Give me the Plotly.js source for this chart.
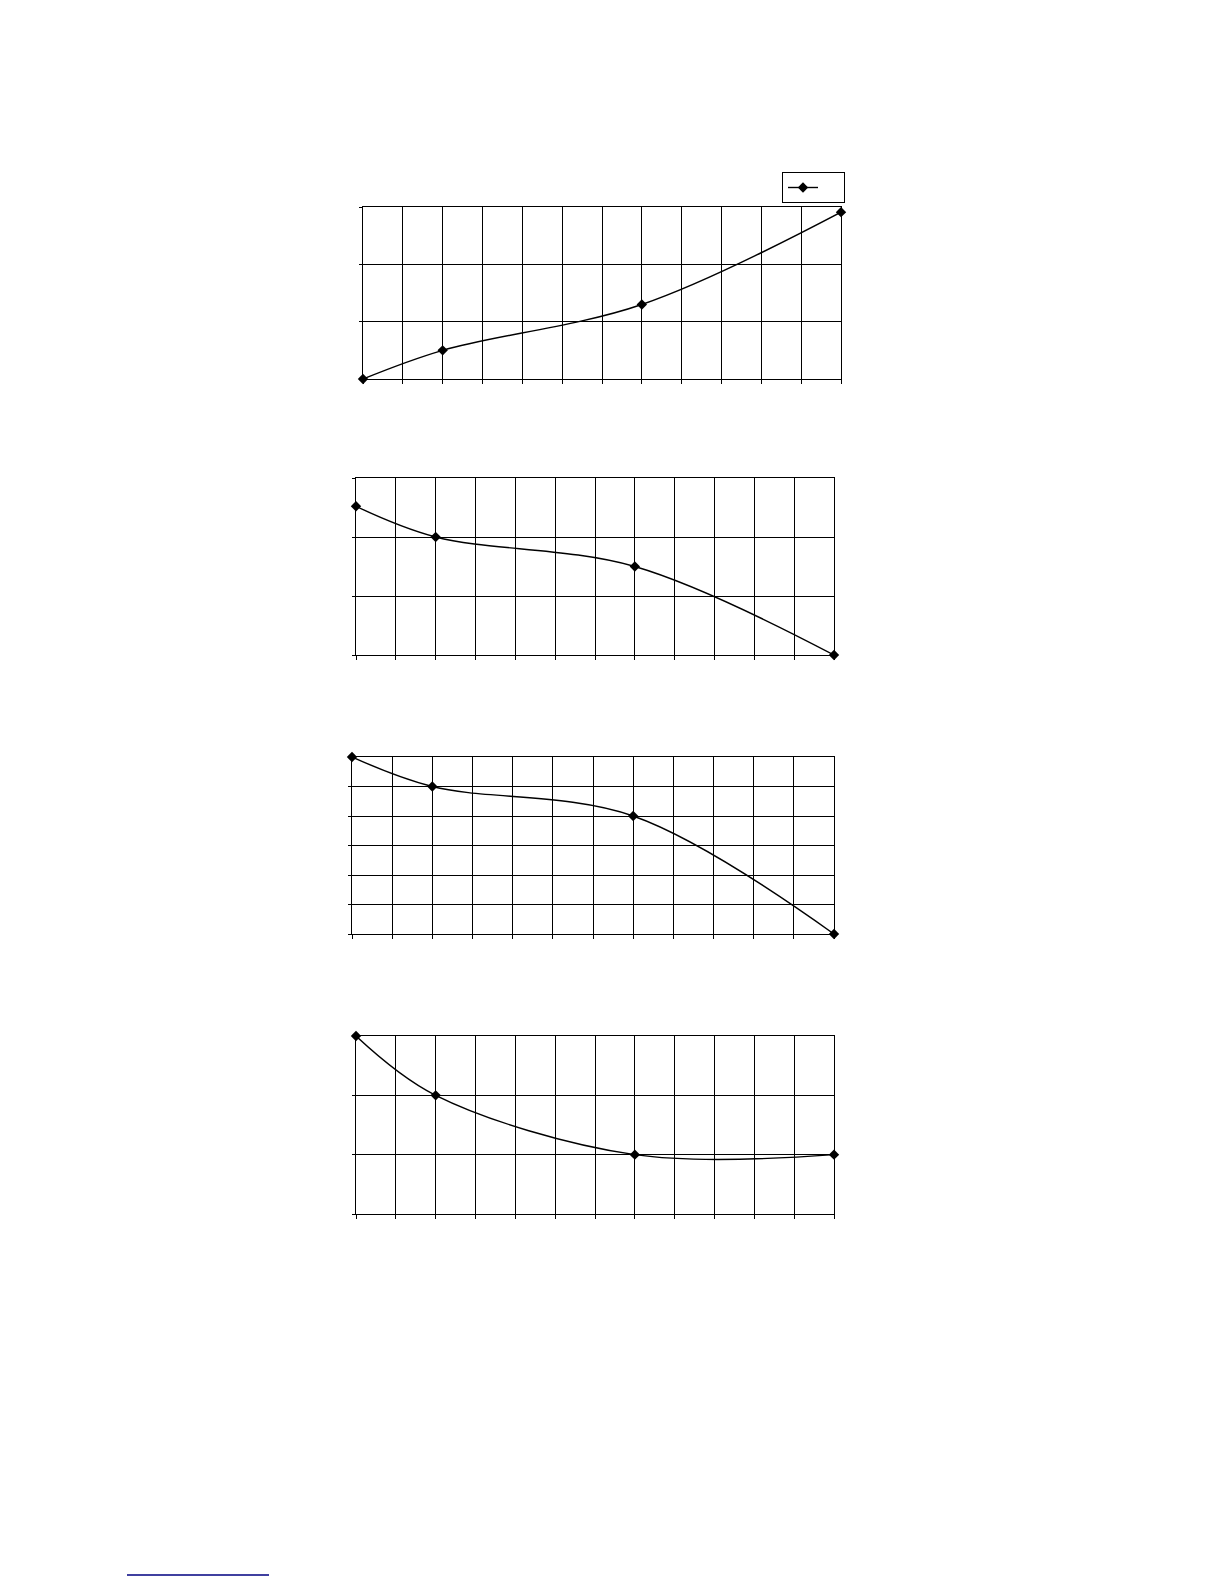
<!DOCTYPE html>
<html>
<head>
<meta charset="utf-8">
<script src="https://cdn.plot.ly/plotly-3.0.1.min.js"></script>
<style>
  body { margin: 0; background: #fff; }
  #plot { width: 1224px; height: 1584px; }
</style>
</head>
<body>
<div id="plot"></div>
<script>
// data points (x position on a 0..12 grid)
var xPoints = [0, 2, 7, 12];
var series1 = [0, 0.5, 1.3, 2.91];
var series2 = [2.52, 2.0, 1.5, 0];
var series3 = [6, 5, 4, 0];
var series4 = [3, 2, 1, 1];
var yMax = [3, 3, 6, 3];

// plot boxes in page pixels: [left, right, top, bottom]
var boxes = [
    [363, 841, 207, 379],
    [356, 834, 478, 655],
    [352, 834, 757, 934],
    [356, 834, 1036, 1214]
];

var W = 1224, H = 1584;
var allSeries = [series1, series2, series3, series4];

var data = [];
var layout = {
    width: W,
    height: H,
    margin: {l: 0, r: 0, t: 0, b: 0, pad: 0},
    paper_bgcolor: '#fff',
    plot_bgcolor: '#fff',
    showlegend: true,
    legend: {
        x: 782 / W,
        y: 1 - 172 / H,
        xanchor: 'left',
        yanchor: 'top',
        bordercolor: '#000',
        borderwidth: 1,
        bgcolor: '#fff',
        font: {family: 'Liberation Sans', size: 8, color: '#000'},
        itemwidth: 30,
        tracegroupgap: 0
    },
    shapes: [{
        type: 'line', xref: 'paper', yref: 'paper',
        x0: 127 / W, x1: 269 / W, y0: 1 - 1575 / H, y1: 1 - 1575 / H,
        line: {color: '#000080', width: 1.5}
    }]
};

for (var i = 0; i < 4; i++) {
    var n = i === 0 ? '' : (i + 1).toString();
    var b = boxes[i];
    data.push({
        x: xPoints,
        y: allSeries[i],
        xaxis: 'x' + n,
        yaxis: 'y' + n,
        type: 'scatter',
        mode: 'lines+markers',
        name: '\u00a0\u00a0\u00a0\u00a0\u00a0\u00a0\u00a0',
        showlegend: i === 0,
        cliponaxis: false,
        line: {color: '#000', width: 1.4, shape: 'spline', smoothing: 1},
        marker: {symbol: 'diamond', size: 8, color: '#000'}
    });
    layout['xaxis' + n] = {
        domain: [b[0] / W, b[1] / W],
        anchor: 'y' + n,
        range: [0, 12],
        dtick: 1,
        tick0: 0,
        showticklabels: false,
        ticks: 'outside',
        ticklen: 4,
        tickcolor: '#000',
        tickwidth: 1,
        showline: true,
        linecolor: '#000',
        linewidth: 1,
        mirror: true,
        showgrid: true,
        gridcolor: '#000',
        gridwidth: 1,
        zeroline: false,
        fixedrange: true
    };
    layout['yaxis' + n] = {
        domain: [1 - b[3] / H, 1 - b[2] / H],
        anchor: 'x' + n,
        range: [0, yMax[i]],
        dtick: 1,
        tick0: 0,
        showticklabels: false,
        ticks: 'outside',
        ticklen: 3,
        tickcolor: '#000',
        tickwidth: 1,
        showline: true,
        linecolor: '#000',
        linewidth: 1,
        mirror: true,
        showgrid: true,
        gridcolor: '#000',
        gridwidth: 1,
        zeroline: false,
        fixedrange: true
    };
}

Plotly.newPlot('plot', data, layout, {displayModeBar: false, staticPlot: true});
</script>
</body>
</html>
